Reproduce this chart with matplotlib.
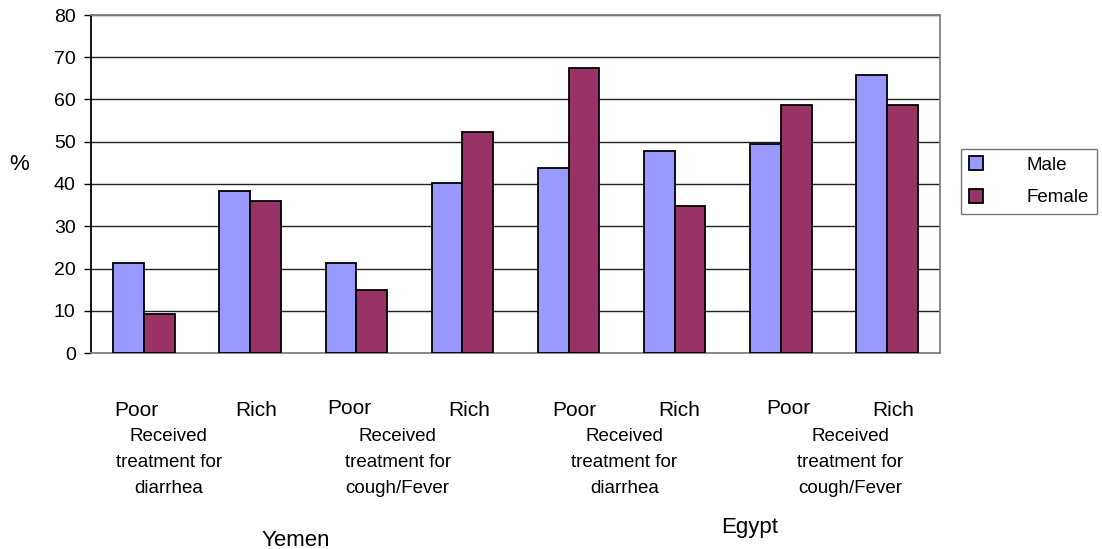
import matplotlib
matplotlib.use("Agg")
import matplotlib.pyplot as plt
from matplotlib.transforms import blended_transform_factory, offset_copy
import numpy as np

# ---- data ----
sub_labels = ["Poor", "Rich", "Poor", "Rich", "Poor", "Rich", "Poor", "Rich"]
male = [21.4, 38.3, 21.4, 40.2, 43.7, 47.9, 49.4, 65.9]
female = [9.2, 35.9, 14.9, 52.4, 67.5, 34.9, 58.6, 58.6]
group_labels = ["Received\ntreatment for\ndiarrhea", "Received\ntreatment for\ncough/Fever",
                "Received\ntreatment for\ndiarrhea", "Received\ntreatment for\ncough/Fever"]
group_label_x = [0.234, 2.389, 4.526, 6.653]
countries = ["Yemen", "Egypt"]
country_x = [1.43, 5.71]
country_y = [-0.571, -0.533]
series_names = ["Male", "Female"]
yticks = [0, 10, 20, 30, 40, 50, 60, 70, 80]

# small horizontal / vertical nudges of the Poor/Rich labels (pixels)
label_dx = [-8, 6, -7, 7, 6, 5, 7, 6]
label_dy = [0, 0, 2, 0, 0, 0, 2, 0]

plt.rcParams["font.family"] = ["Liberation Sans", "DejaVu Sans"]

fig = plt.figure(figsize=(11.02, 5.49), dpi=100)
ax = fig.add_axes([91/1102, 1-353/549, 849/1102, 338/549])

x = np.arange(len(sub_labels))
w = 0.29
ax.bar(x - w/2, male, w, color="#9999FF", edgecolor="black", linewidth=1.3, label=series_names[0], zorder=3)
ax.bar(x + w/2, female, w, color="#993366", edgecolor="black", linewidth=1.3, label=series_names[1], zorder=3)

ax.set_xlim(-0.5, len(sub_labels) - 0.5)
ax.set_ylim(0, 80)
ax.set_yticks(yticks)
ax.yaxis.grid(True, color="#222222", linewidth=1.0, zorder=0)
ax.set_axisbelow(True)
ax.tick_params(axis="y", labelsize=14, length=5, width=1, direction="out", pad=6)
ax.set_xticks([])

for s in ["top", "right", "bottom"]:
    ax.spines[s].set_color("#808080")
    ax.spines[s].set_linewidth(1.3)
ax.spines["left"].set_color("black")
ax.spines["left"].set_linewidth(1.3)

trans = blended_transform_factory(ax.transData, ax.transAxes)
# Poor / Rich labels (baseline about 63 px under the axis)
for xi, lab, dx, dy in zip(x, sub_labels, label_dx, label_dy):
    t = offset_copy(trans, fig=fig, x=dx, y=dy, units="dots")
    ax.text(xi, -63/338, lab, transform=t, ha="center", va="baseline", fontsize=15)

for gx, gl in zip(group_label_x, group_labels):
    ax.text(gx, -0.222, gl, transform=trans, ha="center", va="top", fontsize=13.5, linespacing=1.69)
for cx, cy, cn in zip(country_x, country_y, countries):
    ax.text(cx, cy, cn, transform=trans, ha="center", va="baseline", fontsize=16)

fig.text(19/1102, 1-165/549, "%", ha="center", va="center", fontsize=16)

leg = ax.legend(loc="upper left", bbox_to_anchor=(961/1102, 1-149/549), bbox_transform=fig.transFigure,
                fontsize=13.5, frameon=True, fancybox=False, edgecolor="#555555",
                handlelength=0.75, handleheight=0.75, handletextpad=2.35, borderpad=0.4,
                labelspacing=0.8, borderaxespad=0)
leg.get_frame().set_linewidth(1.0)

fig.savefig("out.png", dpi=100)
